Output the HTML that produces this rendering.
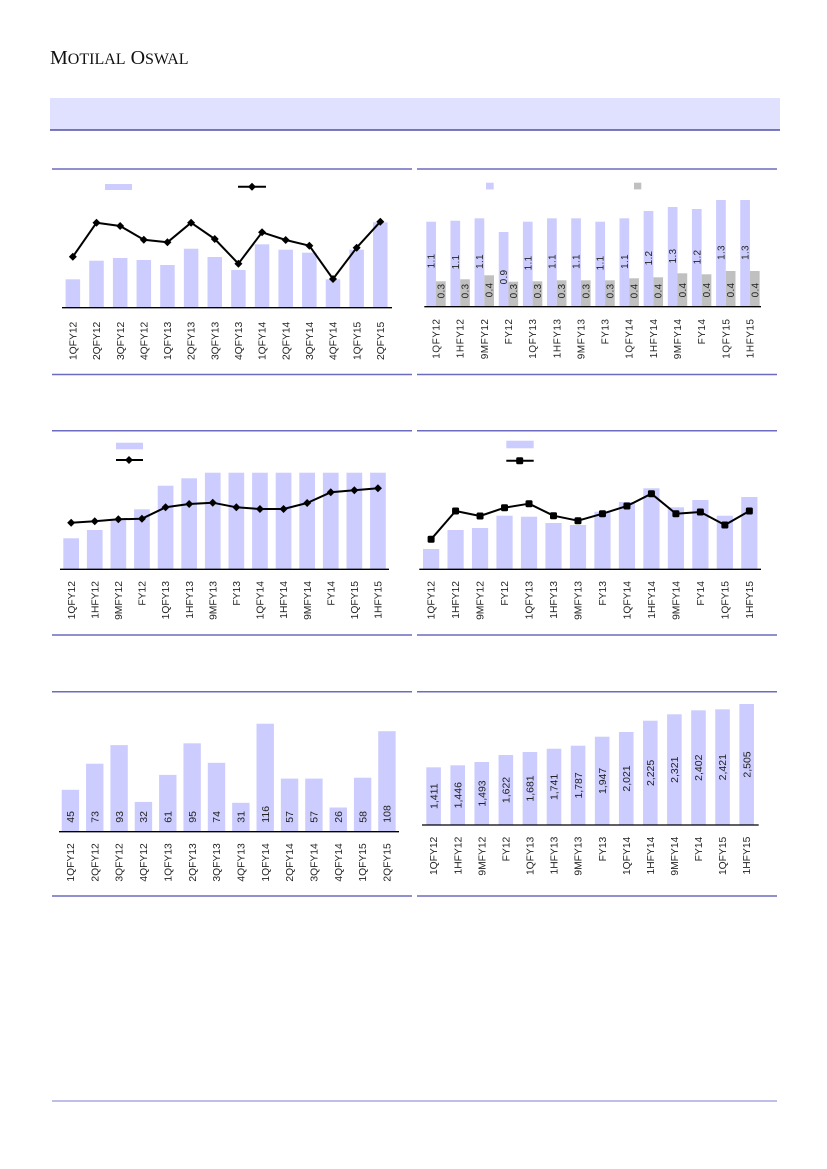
<!DOCTYPE html>
<html><head><meta charset="utf-8"><style>
html,body{margin:0;padding:0;background:#fff;}
svg{display:block;}
text{font-family:"Liberation Sans",Arial,sans-serif;fill:#222;}
.cl{font-size:10.3px;}
.cl2{font-size:10px;letter-spacing:0.5px;}
.vl{font-size:10px;}
.vl2{font-size:10px;letter-spacing:0.3px;}
.p{fill:#ccccff;}
.g{fill:#c0c0c0;}
.ln{stroke:#6b6bbf;stroke-width:1.5;}
.ax{stroke:#000;stroke-width:1.3;}
.sl{fill:none;stroke:#000;stroke-width:2;stroke-linejoin:round;}
</style></head><body>
<svg width="827" height="1169" viewBox="0 0 827 1169" xmlns="http://www.w3.org/2000/svg">
<defs>
<path id="dm" d="M0,-4L4,0L0,4L-4,0Z" fill="#000"/>
<rect id="sq" x="-3.5" y="-3.5" width="7" height="7" rx="1.5" fill="#000"/>
</defs>

<!-- Header -->
<text x="50" y="64" style="font-family:'Liberation Serif',serif;fill:#111"><tspan font-size="20">M</tspan><tspan font-size="16">OTILAL</tspan><tspan font-size="20"> O</tspan><tspan font-size="16">SWAL</tspan></text>
<rect x="50" y="98" width="730" height="32" fill="#e0e0ff"/>
<line x1="50" y1="130" x2="780" y2="130" stroke="#5050a8" stroke-width="1.5"/>

<!-- section lines -->
<line class="ln" x1="52" y1="169" x2="412" y2="169"/>
<line class="ln" x1="417" y1="169" x2="777" y2="169"/>
<line class="ln" x1="52" y1="374.5" x2="412" y2="374.5"/>
<line class="ln" x1="417" y1="374.5" x2="777" y2="374.5"/>
<line class="ln" x1="52" y1="430.7" x2="412" y2="430.7"/>
<line class="ln" x1="417" y1="430.7" x2="777" y2="430.7"/>
<line class="ln" x1="52" y1="635" x2="412" y2="635"/>
<line class="ln" x1="417" y1="635" x2="777" y2="635"/>
<line class="ln" x1="52" y1="691.7" x2="412" y2="691.7"/>
<line class="ln" x1="417" y1="691.7" x2="777" y2="691.7"/>
<line class="ln" x1="52" y1="896" x2="412" y2="896"/>
<line class="ln" x1="417" y1="896" x2="777" y2="896"/>
<line x1="52" y1="1101" x2="777" y2="1101" stroke="#a8a8e0" stroke-width="1.5"/>

<!-- ===== Chart 1 ===== -->
<rect class="p" x="105" y="184" width="27" height="6"/>
<line x1="238" y1="186.7" x2="266" y2="186.7" stroke="#000" stroke-width="2"/>
<use href="#dm" x="252" y="186.7"/>
<g>
<rect class="p" x="65.6" y="279.3" width="14.5" height="28.4"/>
<rect class="p" x="89.25" y="260.7" width="14.5" height="47"/>
<rect class="p" x="112.9" y="258" width="14.5" height="49.7"/>
<rect class="p" x="136.55" y="260" width="14.5" height="47.7"/>
<rect class="p" x="160.2" y="265" width="14.5" height="42.7"/>
<rect class="p" x="183.85" y="248.7" width="14.5" height="59"/>
<rect class="p" x="207.5" y="257" width="14.5" height="50.7"/>
<rect class="p" x="231.15" y="270" width="14.5" height="37.7"/>
<rect class="p" x="254.8" y="244.3" width="14.5" height="63.4"/>
<rect class="p" x="278.45" y="249.7" width="14.5" height="58"/>
<rect class="p" x="302.1" y="252.7" width="14.5" height="55"/>
<rect class="p" x="325.75" y="279.3" width="14.5" height="28.4"/>
<rect class="p" x="349.4" y="249.7" width="14.5" height="58"/>
<rect class="p" x="373.05" y="222.3" width="14.5" height="85.4"/>
</g>
<line class="ax" x1="62" y1="307.7" x2="392" y2="307.7"/>
<polyline class="sl" points="72.85,256.7 96.5,222.7 120.15,226 143.8,239.7 167.45,242.3 191.1,222.7 214.75,239 238.4,263.7 262.05,232.3 285.7,240 309.35,245.7 333,279 356.65,247.7 380.3,221.7"/>
<use href="#dm" x="72.85" y="256.7"/><use href="#dm" x="96.5" y="222.7"/><use href="#dm" x="120.15" y="226"/><use href="#dm" x="143.8" y="239.7"/><use href="#dm" x="167.45" y="242.3"/><use href="#dm" x="191.1" y="222.7"/><use href="#dm" x="214.75" y="239"/><use href="#dm" x="238.4" y="263.7"/><use href="#dm" x="262.05" y="232.3"/><use href="#dm" x="285.7" y="240"/><use href="#dm" x="309.35" y="245.7"/><use href="#dm" x="333" y="279"/><use href="#dm" x="356.65" y="247.7"/><use href="#dm" x="380.3" y="221.7"/>
<g class="cl" text-anchor="end">
<text transform="translate(72.85,321.7) rotate(-90)" dy="0.35em">1QFY12</text>
<text transform="translate(96.5,321.7) rotate(-90)" dy="0.35em">2QFY12</text>
<text transform="translate(120.15,321.7) rotate(-90)" dy="0.35em">3QFY12</text>
<text transform="translate(143.8,321.7) rotate(-90)" dy="0.35em">4QFY12</text>
<text transform="translate(167.45,321.7) rotate(-90)" dy="0.35em">1QFY13</text>
<text transform="translate(191.1,321.7) rotate(-90)" dy="0.35em">2QFY13</text>
<text transform="translate(214.75,321.7) rotate(-90)" dy="0.35em">3QFY13</text>
<text transform="translate(238.4,321.7) rotate(-90)" dy="0.35em">4QFY13</text>
<text transform="translate(262.05,321.7) rotate(-90)" dy="0.35em">1QFY14</text>
<text transform="translate(285.7,321.7) rotate(-90)" dy="0.35em">2QFY14</text>
<text transform="translate(309.35,321.7) rotate(-90)" dy="0.35em">3QFY14</text>
<text transform="translate(333,321.7) rotate(-90)" dy="0.35em">4QFY14</text>
<text transform="translate(356.65,321.7) rotate(-90)" dy="0.35em">1QFY15</text>
<text transform="translate(380.3,321.7) rotate(-90)" dy="0.35em">2QFY15</text>
</g>

<!-- ===== Chart 2 ===== -->
<rect class="p" x="486" y="182.7" width="7.7" height="6.7"/>
<rect class="g" x="634" y="182.7" width="7.3" height="6.7"/>
<rect class="p" x="426.3" y="221.7" width="9.7" height="85"/>
<rect class="p" x="450.45" y="220.7" width="9.7" height="86"/>
<rect class="p" x="474.6" y="218.3" width="9.7" height="88.4"/>
<rect class="p" x="498.75" y="232" width="9.7" height="74.7"/>
<rect class="p" x="522.9" y="221.7" width="9.7" height="85"/>
<rect class="p" x="547.05" y="218.3" width="9.7" height="88.4"/>
<rect class="p" x="571.2" y="218.3" width="9.7" height="88.4"/>
<rect class="p" x="595.35" y="221.7" width="9.7" height="85"/>
<rect class="p" x="619.5" y="218.3" width="9.7" height="88.4"/>
<rect class="p" x="643.65" y="211" width="9.7" height="95.7"/>
<rect class="p" x="667.8" y="207" width="9.7" height="99.7"/>
<rect class="p" x="691.95" y="209" width="9.7" height="97.7"/>
<rect class="p" x="716.1" y="200" width="9.7" height="106.7"/>
<rect class="p" x="740.25" y="200" width="9.7" height="106.7"/>
<rect class="g" x="436" y="281.3" width="9.7" height="25.4"/>
<rect class="g" x="460.15" y="279.3" width="9.7" height="27.4"/>
<rect class="g" x="484.3" y="275.3" width="9.7" height="31.4"/>
<rect class="g" x="508.45" y="281.7" width="9.7" height="25"/>
<rect class="g" x="532.6" y="281.3" width="9.7" height="25.4"/>
<rect class="g" x="556.75" y="280.3" width="9.7" height="26.4"/>
<rect class="g" x="580.9" y="280.3" width="9.7" height="26.4"/>
<rect class="g" x="605.05" y="280.3" width="9.7" height="26.4"/>
<rect class="g" x="629.2" y="278.3" width="9.7" height="28.4"/>
<rect class="g" x="653.35" y="277.3" width="9.7" height="29.4"/>
<rect class="g" x="677.5" y="273.3" width="9.7" height="33.4"/>
<rect class="g" x="701.65" y="274.3" width="9.7" height="32.4"/>
<rect class="g" x="725.8" y="271" width="9.7" height="35.7"/>
<rect class="g" x="749.95" y="271" width="9.7" height="35.7"/>
<line class="ax" x1="424.3" y1="306.7" x2="761" y2="306.7"/>
<g class="vl2" text-anchor="middle">
<text transform="translate(431.15,261) rotate(-90)" dy="0.35em">1.1</text>
<text transform="translate(455.3,262) rotate(-90)" dy="0.35em">1.1</text>
<text transform="translate(479.45,261.5) rotate(-90)" dy="0.35em">1.1</text>
<text transform="translate(503.6,277) rotate(-90)" dy="0.35em">0.9</text>
<text transform="translate(527.75,263) rotate(-90)" dy="0.35em">1.1</text>
<text transform="translate(551.9,261.5) rotate(-90)" dy="0.35em">1.1</text>
<text transform="translate(576.05,261.5) rotate(-90)" dy="0.35em">1.1</text>
<text transform="translate(600.2,263) rotate(-90)" dy="0.35em">1.1</text>
<text transform="translate(624.35,261.5) rotate(-90)" dy="0.35em">1.1</text>
<text transform="translate(648.5,258) rotate(-90)" dy="0.35em">1.2</text>
<text transform="translate(672.65,256) rotate(-90)" dy="0.35em">1.3</text>
<text transform="translate(696.8,257) rotate(-90)" dy="0.35em">1.2</text>
<text transform="translate(720.95,252.5) rotate(-90)" dy="0.35em">1.3</text>
<text transform="translate(745.1,252.5) rotate(-90)" dy="0.35em">1.3</text>
<text transform="translate(440.85,291) rotate(-90)" dy="0.35em">0.3</text>
<text transform="translate(465,291) rotate(-90)" dy="0.35em">0.3</text>
<text transform="translate(489.15,290) rotate(-90)" dy="0.35em">0.4</text>
<text transform="translate(513.3,291) rotate(-90)" dy="0.35em">0.3</text>
<text transform="translate(537.45,291) rotate(-90)" dy="0.35em">0.3</text>
<text transform="translate(561.6,291) rotate(-90)" dy="0.35em">0.3</text>
<text transform="translate(585.75,291) rotate(-90)" dy="0.35em">0.3</text>
<text transform="translate(609.9,291) rotate(-90)" dy="0.35em">0.3</text>
<text transform="translate(634.05,291) rotate(-90)" dy="0.35em">0.4</text>
<text transform="translate(658.2,291) rotate(-90)" dy="0.35em">0.4</text>
<text transform="translate(682.35,290) rotate(-90)" dy="0.35em">0.4</text>
<text transform="translate(706.5,290) rotate(-90)" dy="0.35em">0.4</text>
<text transform="translate(730.65,290) rotate(-90)" dy="0.35em">0.4</text>
<text transform="translate(754.8,290) rotate(-90)" dy="0.35em">0.4</text>
</g>
<g class="cl2" text-anchor="end">
<text transform="translate(436,318.5) rotate(-90)" dy="0.35em">1QFY12</text>
<text transform="translate(460.15,318.5) rotate(-90)" dy="0.35em">1HFY12</text>
<text transform="translate(484.3,318.5) rotate(-90)" dy="0.35em">9MFY12</text>
<text transform="translate(508.45,318.5) rotate(-90)" dy="0.35em">FY12</text>
<text transform="translate(532.6,318.5) rotate(-90)" dy="0.35em">1QFY13</text>
<text transform="translate(556.75,318.5) rotate(-90)" dy="0.35em">1HFY13</text>
<text transform="translate(580.9,318.5) rotate(-90)" dy="0.35em">9MFY13</text>
<text transform="translate(605.05,318.5) rotate(-90)" dy="0.35em">FY13</text>
<text transform="translate(629.2,318.5) rotate(-90)" dy="0.35em">1QFY14</text>
<text transform="translate(653.35,318.5) rotate(-90)" dy="0.35em">1HFY14</text>
<text transform="translate(677.5,318.5) rotate(-90)" dy="0.35em">9MFY14</text>
<text transform="translate(701.65,318.5) rotate(-90)" dy="0.35em">FY14</text>
<text transform="translate(725.8,318.5) rotate(-90)" dy="0.35em">1QFY15</text>
<text transform="translate(749.95,318.5) rotate(-90)" dy="0.35em">1HFY15</text>
</g>

<!-- ===== Chart 3 ===== -->
<rect class="p" x="116" y="442.7" width="27" height="6.6"/>
<line x1="116" y1="460" x2="143" y2="460" stroke="#000" stroke-width="2"/>
<use href="#dm" x="129" y="460"/>
<rect class="p" x="63.3" y="538.3" width="15.7" height="31"/>
<rect class="p" x="86.9" y="530" width="15.7" height="39.3"/>
<rect class="p" x="110.5" y="519.3" width="15.7" height="50"/>
<rect class="p" x="134.1" y="509.3" width="15.7" height="60"/>
<rect class="p" x="157.7" y="485.7" width="15.7" height="83.6"/>
<rect class="p" x="181.3" y="478.3" width="15.7" height="91"/>
<rect class="p" x="204.9" y="472.7" width="15.7" height="96.6"/>
<rect class="p" x="228.5" y="472.7" width="15.7" height="96.6"/>
<rect class="p" x="252.1" y="472.7" width="15.7" height="96.6"/>
<rect class="p" x="275.7" y="472.7" width="15.7" height="96.6"/>
<rect class="p" x="299.3" y="472.7" width="15.7" height="96.6"/>
<rect class="p" x="322.9" y="472.7" width="15.7" height="96.6"/>
<rect class="p" x="346.5" y="472.7" width="15.7" height="96.6"/>
<rect class="p" x="370.1" y="472.7" width="15.7" height="96.6"/>
<line class="ax" x1="60" y1="569.3" x2="389" y2="569.3"/>
<polyline class="sl" points="71.15,522.7 94.75,521.3 118.35,519.3 141.95,518.7 165.55,507.3 189.15,504 212.75,502.7 236.35,507.3 259.95,509 283.55,509 307.15,503 330.75,492.3 354.35,490.3 377.95,488.3"/>
<use href="#dm" x="71.15" y="522.7"/><use href="#dm" x="94.75" y="521.3"/><use href="#dm" x="118.35" y="519.3"/><use href="#dm" x="141.95" y="518.7"/><use href="#dm" x="165.55" y="507.3"/><use href="#dm" x="189.15" y="504"/><use href="#dm" x="212.75" y="502.7"/><use href="#dm" x="236.35" y="507.3"/><use href="#dm" x="259.95" y="509"/><use href="#dm" x="283.55" y="509"/><use href="#dm" x="307.15" y="503"/><use href="#dm" x="330.75" y="492.3"/><use href="#dm" x="354.35" y="490.3"/><use href="#dm" x="377.95" y="488.3"/>
<g class="cl" text-anchor="end">
<text transform="translate(71.15,581) rotate(-90)" dy="0.35em">1QFY12</text>
<text transform="translate(94.75,581) rotate(-90)" dy="0.35em">1HFY12</text>
<text transform="translate(118.35,581) rotate(-90)" dy="0.35em">9MFY12</text>
<text transform="translate(141.95,581) rotate(-90)" dy="0.35em">FY12</text>
<text transform="translate(165.55,581) rotate(-90)" dy="0.35em">1QFY13</text>
<text transform="translate(189.15,581) rotate(-90)" dy="0.35em">1HFY13</text>
<text transform="translate(212.75,581) rotate(-90)" dy="0.35em">9MFY13</text>
<text transform="translate(236.35,581) rotate(-90)" dy="0.35em">FY13</text>
<text transform="translate(259.95,581) rotate(-90)" dy="0.35em">1QFY14</text>
<text transform="translate(283.55,581) rotate(-90)" dy="0.35em">1HFY14</text>
<text transform="translate(307.15,581) rotate(-90)" dy="0.35em">9MFY14</text>
<text transform="translate(330.75,581) rotate(-90)" dy="0.35em">FY14</text>
<text transform="translate(354.35,581) rotate(-90)" dy="0.35em">1QFY15</text>
<text transform="translate(377.95,581) rotate(-90)" dy="0.35em">1HFY15</text>
</g>

<!-- ===== Chart 4 ===== -->
<rect class="p" x="506.3" y="440.7" width="27.4" height="7.6"/>
<line x1="506.3" y1="460.7" x2="533.7" y2="460.7" stroke="#000" stroke-width="2"/>
<use href="#sq" x="519.7" y="460.7"/>
<rect class="p" x="423" y="549" width="16.2" height="20.3"/>
<rect class="p" x="447.48" y="530" width="16.2" height="39.3"/>
<rect class="p" x="471.96" y="528" width="16.2" height="41.3"/>
<rect class="p" x="496.44" y="515.7" width="16.2" height="53.6"/>
<rect class="p" x="520.92" y="516.7" width="16.2" height="52.6"/>
<rect class="p" x="545.4" y="523" width="16.2" height="46.3"/>
<rect class="p" x="569.88" y="525" width="16.2" height="44.3"/>
<rect class="p" x="594.36" y="511.7" width="16.2" height="57.6"/>
<rect class="p" x="618.84" y="502" width="16.2" height="67.3"/>
<rect class="p" x="643.32" y="488.3" width="16.2" height="81"/>
<rect class="p" x="667.8" y="507.3" width="16.2" height="62"/>
<rect class="p" x="692.28" y="500" width="16.2" height="69.3"/>
<rect class="p" x="716.76" y="515.7" width="16.2" height="53.6"/>
<rect class="p" x="741.24" y="497" width="16.2" height="72.3"/>
<line class="ax" x1="419.3" y1="569.3" x2="761" y2="569.3"/>
<polyline class="sl" points="431.1,539.3 455.58,511 480.06,516 504.54,507.7 529.02,503.7 553.5,515.7 577.98,520.7 602.46,513.7 626.94,506 651.42,493.7 675.9,513.7 700.38,512 724.86,525 749.34,511"/>
<use href="#sq" x="431.1" y="539.3"/><use href="#sq" x="455.58" y="511"/><use href="#sq" x="480.06" y="516"/><use href="#sq" x="504.54" y="507.7"/><use href="#sq" x="529.02" y="503.7"/><use href="#sq" x="553.5" y="515.7"/><use href="#sq" x="577.98" y="520.7"/><use href="#sq" x="602.46" y="513.7"/><use href="#sq" x="626.94" y="506"/><use href="#sq" x="651.42" y="493.7"/><use href="#sq" x="675.9" y="513.7"/><use href="#sq" x="700.38" y="512"/><use href="#sq" x="724.86" y="525"/><use href="#sq" x="749.34" y="511"/>
<g class="cl" text-anchor="end">
<text transform="translate(431.1,581) rotate(-90)" dy="0.35em">1QFY12</text>
<text transform="translate(455.58,581) rotate(-90)" dy="0.35em">1HFY12</text>
<text transform="translate(480.06,581) rotate(-90)" dy="0.35em">9MFY12</text>
<text transform="translate(504.54,581) rotate(-90)" dy="0.35em">FY12</text>
<text transform="translate(529.02,581) rotate(-90)" dy="0.35em">1QFY13</text>
<text transform="translate(553.5,581) rotate(-90)" dy="0.35em">1HFY13</text>
<text transform="translate(577.98,581) rotate(-90)" dy="0.35em">9MFY13</text>
<text transform="translate(602.46,581) rotate(-90)" dy="0.35em">FY13</text>
<text transform="translate(626.94,581) rotate(-90)" dy="0.35em">1QFY14</text>
<text transform="translate(651.42,581) rotate(-90)" dy="0.35em">1HFY14</text>
<text transform="translate(675.9,581) rotate(-90)" dy="0.35em">9MFY14</text>
<text transform="translate(700.38,581) rotate(-90)" dy="0.35em">FY14</text>
<text transform="translate(724.86,581) rotate(-90)" dy="0.35em">1QFY15</text>
<text transform="translate(749.34,581) rotate(-90)" dy="0.35em">1HFY15</text>
</g>

<!-- ===== Chart 5 ===== -->
<rect class="p" x="61.7" y="789.8" width="17.4" height="41.9"/>
<rect class="p" x="86.05" y="763.7" width="17.4" height="68"/>
<rect class="p" x="110.4" y="745.1" width="17.4" height="86.6"/>
<rect class="p" x="134.75" y="801.9" width="17.4" height="29.8"/>
<rect class="p" x="159.1" y="774.9" width="17.4" height="56.8"/>
<rect class="p" x="183.45" y="743.3" width="17.4" height="88.4"/>
<rect class="p" x="207.8" y="762.8" width="17.4" height="68.9"/>
<rect class="p" x="232.15" y="802.8" width="17.4" height="28.9"/>
<rect class="p" x="256.5" y="723.7" width="17.4" height="108"/>
<rect class="p" x="280.85" y="778.6" width="17.4" height="53.1"/>
<rect class="p" x="305.2" y="778.6" width="17.4" height="53.1"/>
<rect class="p" x="329.55" y="807.5" width="17.4" height="24.2"/>
<rect class="p" x="353.9" y="777.7" width="17.4" height="54"/>
<rect class="p" x="378.25" y="731.2" width="17.4" height="100.5"/>
<line class="ax" x1="59" y1="831.7" x2="399" y2="831.7"/>
<g class="vl" text-anchor="start" style="font-size:10.5px">
<text transform="translate(70.4,822.7) rotate(-90)" dy="0.35em">45</text>
<text transform="translate(94.75,822.7) rotate(-90)" dy="0.35em">73</text>
<text transform="translate(119.1,822.7) rotate(-90)" dy="0.35em">93</text>
<text transform="translate(143.45,822.7) rotate(-90)" dy="0.35em">32</text>
<text transform="translate(167.8,822.7) rotate(-90)" dy="0.35em">61</text>
<text transform="translate(192.15,822.7) rotate(-90)" dy="0.35em">95</text>
<text transform="translate(216.5,822.7) rotate(-90)" dy="0.35em">74</text>
<text transform="translate(240.85,822.7) rotate(-90)" dy="0.35em">31</text>
<text transform="translate(265.2,822.7) rotate(-90)" dy="0.35em">116</text>
<text transform="translate(289.55,822.7) rotate(-90)" dy="0.35em">57</text>
<text transform="translate(313.9,822.7) rotate(-90)" dy="0.35em">57</text>
<text transform="translate(338.25,822.7) rotate(-90)" dy="0.35em">26</text>
<text transform="translate(362.6,822.7) rotate(-90)" dy="0.35em">58</text>
<text transform="translate(386.95,822.7) rotate(-90)" dy="0.35em">108</text>
</g>
<g class="cl" text-anchor="end">
<text transform="translate(70.4,843.3) rotate(-90)" dy="0.35em">1QFY12</text>
<text transform="translate(94.75,843.3) rotate(-90)" dy="0.35em">2QFY12</text>
<text transform="translate(119.1,843.3) rotate(-90)" dy="0.35em">3QFY12</text>
<text transform="translate(143.45,843.3) rotate(-90)" dy="0.35em">4QFY12</text>
<text transform="translate(167.8,843.3) rotate(-90)" dy="0.35em">1QFY13</text>
<text transform="translate(192.15,843.3) rotate(-90)" dy="0.35em">2QFY13</text>
<text transform="translate(216.5,843.3) rotate(-90)" dy="0.35em">3QFY13</text>
<text transform="translate(240.85,843.3) rotate(-90)" dy="0.35em">4QFY13</text>
<text transform="translate(265.2,843.3) rotate(-90)" dy="0.35em">1QFY14</text>
<text transform="translate(289.55,843.3) rotate(-90)" dy="0.35em">2QFY14</text>
<text transform="translate(313.9,843.3) rotate(-90)" dy="0.35em">3QFY14</text>
<text transform="translate(338.25,843.3) rotate(-90)" dy="0.35em">4QFY14</text>
<text transform="translate(362.6,843.3) rotate(-90)" dy="0.35em">1QFY15</text>
<text transform="translate(386.95,843.3) rotate(-90)" dy="0.35em">2QFY15</text>
</g>

<!-- ===== Chart 6 ===== -->
<rect class="p" x="426.3" y="767.3" width="14.6" height="57.7"/>
<rect class="p" x="450.38" y="765.3" width="14.6" height="59.7"/>
<rect class="p" x="474.46" y="762" width="14.6" height="63"/>
<rect class="p" x="498.54" y="755" width="14.6" height="70"/>
<rect class="p" x="522.62" y="752" width="14.6" height="73"/>
<rect class="p" x="546.7" y="748.7" width="14.6" height="76.3"/>
<rect class="p" x="570.78" y="745.7" width="14.6" height="79.3"/>
<rect class="p" x="594.86" y="736.7" width="14.6" height="88.3"/>
<rect class="p" x="618.94" y="732" width="14.6" height="93"/>
<rect class="p" x="643.02" y="720.7" width="14.6" height="104.3"/>
<rect class="p" x="667.1" y="714.3" width="14.6" height="110.7"/>
<rect class="p" x="691.18" y="710.3" width="14.6" height="114.7"/>
<rect class="p" x="715.26" y="709.3" width="14.6" height="115.7"/>
<rect class="p" x="739.34" y="704" width="14.6" height="121"/>
<line class="ax" x1="422" y1="825" x2="758.7" y2="825"/>
<g class="vl" text-anchor="middle" style="font-size:10.5px">
<text transform="translate(433.6,796.2) rotate(-90)" dy="0.35em">1,411</text>
<text transform="translate(457.68,795.2) rotate(-90)" dy="0.35em">1,446</text>
<text transform="translate(481.76,793.5) rotate(-90)" dy="0.35em">1,493</text>
<text transform="translate(505.84,790) rotate(-90)" dy="0.35em">1,622</text>
<text transform="translate(529.92,788.5) rotate(-90)" dy="0.35em">1,681</text>
<text transform="translate(554,786.9) rotate(-90)" dy="0.35em">1,741</text>
<text transform="translate(578.08,785.4) rotate(-90)" dy="0.35em">1,787</text>
<text transform="translate(602.16,780.9) rotate(-90)" dy="0.35em">1,947</text>
<text transform="translate(626.24,778.5) rotate(-90)" dy="0.35em">2,021</text>
<text transform="translate(650.32,772.9) rotate(-90)" dy="0.35em">2,225</text>
<text transform="translate(674.4,769.7) rotate(-90)" dy="0.35em">2,321</text>
<text transform="translate(698.48,767.7) rotate(-90)" dy="0.35em">2,402</text>
<text transform="translate(722.56,767.2) rotate(-90)" dy="0.35em">2,421</text>
<text transform="translate(746.64,764.5) rotate(-90)" dy="0.35em">2,505</text>
</g>
<g class="cl" text-anchor="end">
<text transform="translate(433.6,836.7) rotate(-90)" dy="0.35em">1QFY12</text>
<text transform="translate(457.68,836.7) rotate(-90)" dy="0.35em">1HFY12</text>
<text transform="translate(481.76,836.7) rotate(-90)" dy="0.35em">9MFY12</text>
<text transform="translate(505.84,836.7) rotate(-90)" dy="0.35em">FY12</text>
<text transform="translate(529.92,836.7) rotate(-90)" dy="0.35em">1QFY13</text>
<text transform="translate(554,836.7) rotate(-90)" dy="0.35em">1HFY13</text>
<text transform="translate(578.08,836.7) rotate(-90)" dy="0.35em">9MFY13</text>
<text transform="translate(602.16,836.7) rotate(-90)" dy="0.35em">FY13</text>
<text transform="translate(626.24,836.7) rotate(-90)" dy="0.35em">1QFY14</text>
<text transform="translate(650.32,836.7) rotate(-90)" dy="0.35em">1HFY14</text>
<text transform="translate(674.4,836.7) rotate(-90)" dy="0.35em">9MFY14</text>
<text transform="translate(698.48,836.7) rotate(-90)" dy="0.35em">FY14</text>
<text transform="translate(722.56,836.7) rotate(-90)" dy="0.35em">1QFY15</text>
<text transform="translate(746.64,836.7) rotate(-90)" dy="0.35em">1HFY15</text>
</g>
</svg>
</body></html>
